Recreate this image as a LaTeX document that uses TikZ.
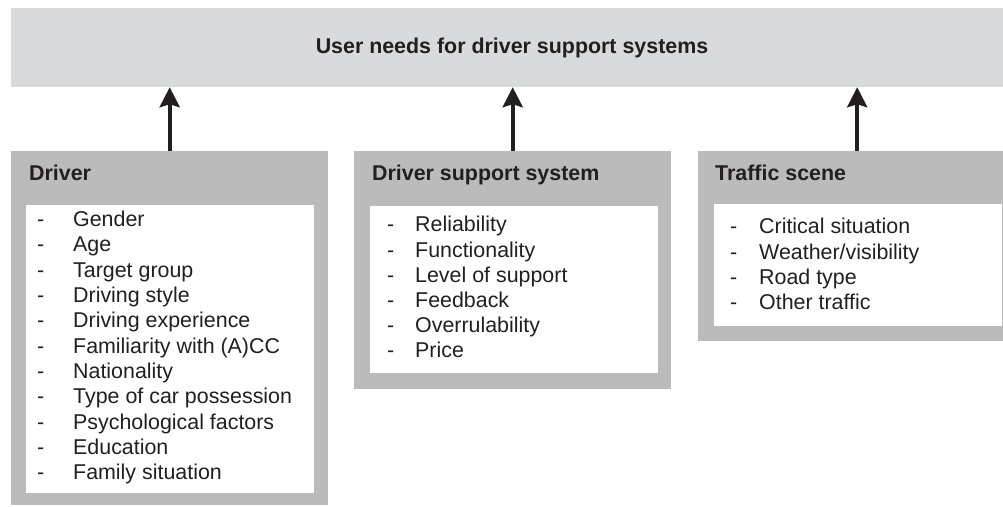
\documentclass[tikz,border=0pt]{standalone}
\usepackage{fontspec}
\setmainfont{Liberation Sans}
\usetikzlibrary{arrows.meta}
\usetikzlibrary{positioning}
\definecolor{barfill}{RGB}{217,218,220}
\definecolor{boxfill}{RGB}{187,187,187}
\definecolor{inktext}{RGB}{35,31,32}

\begin{document}
\begin{tikzpicture}[x=1pt,y=1pt,
  every node/.style={font=\fontsize{21.4}{25.3}\selectfont, text=inktext, inner sep=0pt},
  frame/.style={fill=boxfill, anchor=north west},
  sheet/.style={fill=white, anchor=north west, minimum width=288pt},
  title/.style={font=\fontsize{21.4}{25.3}\selectfont\bfseries, anchor=base west},
  entry/.style={anchor=base west},
  up/.style={draw=inktext, line width=4pt, -{Stealth[length=20pt,width=20pt,inset=3pt]}}]
\useasboundingbox (0,0) rectangle (1003,506);
\clip (0,0) rectangle (1003,506);

\node[fill=barfill, minimum width=1002pt, minimum height=79pt,
  font=\fontsize{21.4}{25.3}\selectfont\bfseries] (needs) at (512,458.5)
  {User needs for driver support systems};

% the three groups of factors
\node[frame, minimum width=317pt, minimum height=354pt] (driver) at (11,355) {};
\node[sheet, minimum height=288pt] (driverlist) at (26,301) {};
\node[title] (driverlabel) at (29,325) {Driver};

\node[frame, minimum width=317pt, minimum height=238pt] (system) at (354,355) {};
\node[sheet, minimum height=167pt] (systemlist) at (370,300) {};
\node[title] (systemlabel) at (372,325) {Driver support system};

\node[frame, minimum width=318pt, minimum height=190pt] (scene) at (698,355) {};
\node[sheet, minimum height=122pt] (scenelist) at (714,302) {};
\node[title] (scenelabel) at (715,325) {Traffic scene};

\foreach \txt [count=\i] in {Gender, Age, Target group, Driving style,
    Driving experience, Familiarity with (A)CC, Nationality,
    Type of car possession, Psychological factors, Education, Family situation}
  \node[entry] (d\i) at (37,{279.3-25.3*(\i-1)}) {\makebox[36pt][l]{-}\txt};

\foreach \txt [count=\i] in {Reliability, Functionality, Level of support,
    Feedback, Overrulability, Price}
  \node[entry] (s\i) at (387,{274-25.2*(\i-1)}) {\makebox[28pt][l]{-}\txt};

\foreach \txt [count=\i] in {Critical situation, Weather/visibility,
    Road type, Other traffic}
  \node[entry] (t\i) at (730,{272-25.2*(\i-1)}) {\makebox[29pt][l]{-}\txt};

\draw[up] (driver.north) -- (driver.north |- needs.south);
\draw[up] (system.north) -- (system.north |- needs.south);
\draw[up] (scene.north) -- (scene.north |- needs.south);
\end{tikzpicture}
\end{document}
